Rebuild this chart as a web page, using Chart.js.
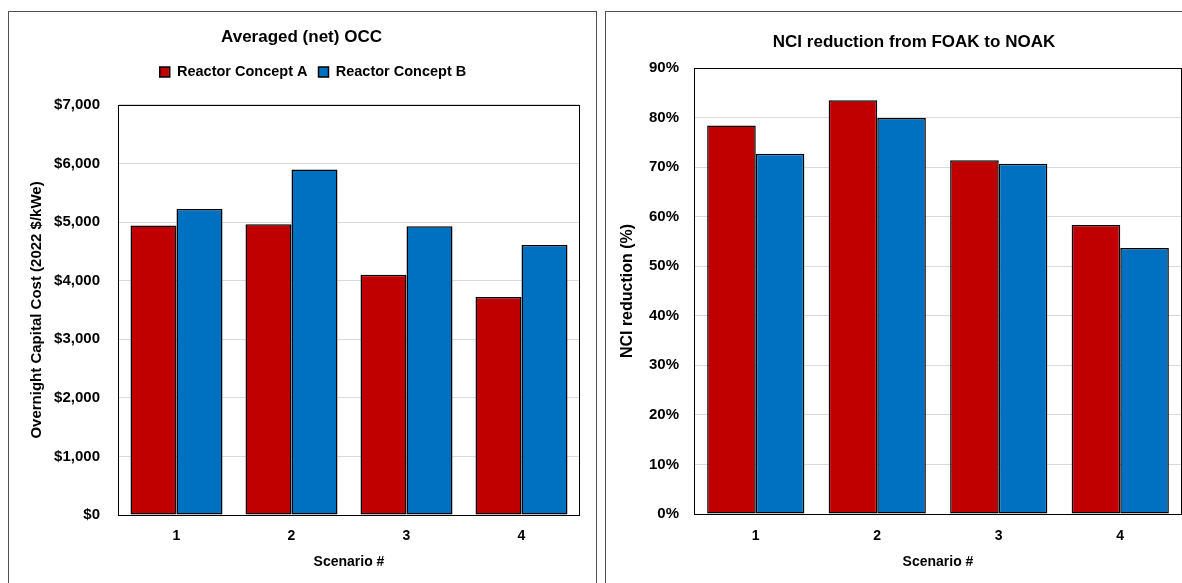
<!DOCTYPE html>
<html>
<head>
<meta charset="utf-8">
<script src="https://cdn.jsdelivr.net/npm/chart.js@4.4.1/dist/chart.umd.min.js"></script>
<style>
  html, body { margin: 0; padding: 0; background: #fff; overflow: hidden; width: 1182px; height: 583px; }
  .panel { position: absolute; border: 1.5px solid #505050; box-sizing: border-box; background: #fff; }
  #panelOcc { left: 8px; top: 11px; width: 589px; height: 620px; }
  #panelNci { left: 605px; top: 11px; width: 650px; height: 620px; }
  canvas { position: absolute; top: 0; }
  #occChart { left: 0; }
  #nciChart { left: 600px; }
</style>
</head>
<body>
<div class="panel" id="panelOcc"></div>
<div class="panel" id="panelNci"></div>
<canvas id="occChart" width="600" height="583"></canvas>
<canvas id="nciChart" width="582" height="583"></canvas>
<script>
// Scenario categories and series names
const scenarios = ['1', '2', '3', '4'];
const conceptNames = ['Reactor Concept A', 'Reactor Concept B'];

// Averaged (net) overnight capital cost, 2022 $/kWe
const occConceptA = [4940, 4965, 4100, 3720];
const occConceptB = [5225, 5900, 4930, 4610];

// NCI reduction from FOAK to NOAK, percent
const nciConceptA = [78.4, 83.5, 71.4, 58.3];
const nciConceptB = [72.7, 79.9, 70.7, 53.7];

// Value-axis tick values
const occTicks = [0, 1000, 2000, 3000, 4000, 5000, 6000, 7000];
const nciTicks = [0, 10, 20, 30, 40, 50, 60, 70, 80, 90];

const RED = '#C00000';
const BLUE = '#0070C0';
const FONT = "'Liberation Sans', Arial, Helvetica, sans-serif";

Chart.defaults.font.family = FONT;
Chart.defaults.color = '#000';

// Shifts the title / legend horizontally and optionally adds space under the legend
function boxTweaks(titleDx, legendDx, legendExtra) {
  const shift = (box, dx) => {
    const draw = box.draw.bind(box);
    box.draw = function (area) {
      this.ctx.save();
      this.ctx.translate(dx, 0);
      draw(area);
      this.ctx.restore();
    };
  };
  return {
    id: 'boxTweaks',
    beforeInit(chart) {
      if (chart.titleBlock && titleDx) shift(chart.titleBlock, titleDx);
      if (chart.legend && legendDx) shift(chart.legend, legendDx);
      if (chart.legend && legendExtra) {
        const fit = chart.legend.fit.bind(chart.legend);
        chart.legend.fit = function () { fit(); this.height += legendExtra; };
      }
    }
  };
}

// Black frame around the plot area
const plotFrame = {
  id: 'plotFrame',
  afterDatasetsDraw(chart) {
    const { ctx, chartArea: a } = chart;
    ctx.save();
    ctx.strokeStyle = '#000';
    ctx.lineWidth = 1;
    ctx.strokeRect(Math.round(a.left) - 0.5, Math.round(a.top) + 0.5,
                   Math.round(a.right - a.left) + 1, Math.round(a.bottom - a.top));
    ctx.restore();
  }
};

function barDataset(label, data, color) {
  return {
    label, data,
    backgroundColor: color,
    borderColor: '#000',
    borderWidth: 1.5,
    borderSkipped: false,
    barPercentage: 1.0,
    categoryPercentage: 0.8
  };
}

function xScale(height, tickPad) {
  return {
    type: 'category',
    grid: { display: false, drawTicks: false },
    border: { display: false },
    ticks: { padding: tickPad, font: { size: 14, weight: 'bold' }, color: '#000' },
    title: { display: true, text: 'Scenario #', font: { size: 14, weight: 'bold' }, color: '#000',
             padding: { top: 0, bottom: 12.6 } },
    afterFit(s) { s.height = height; }
  };
}

// Left: averaged overnight capital cost
new Chart(document.getElementById('occChart'), {
  type: 'bar',
  data: {
    labels: scenarios,
    datasets: [
      barDataset(conceptNames[0], occConceptA, RED),
      barDataset(conceptNames[1], occConceptB, BLUE)
    ]
  },
  options: {
    responsive: false,
    animation: false,
    devicePixelRatio: 1,
    layout: { padding: { left: 0, right: 21, top: 0, bottom: 0 } },
    plugins: {
      title: {
        display: true, text: 'Averaged (net) OCC', color: '#000',
        font: { size: 17, weight: 'bold' },
        padding: { top: 26.8, bottom: 6.5 }
      },
      legend: {
        display: true, position: 'top',
        labels: {
          boxWidth: 10, boxHeight: 10, padding: 11, color: '#000',
          font: { size: 14.5, weight: 'bold' }
        }
      },
      tooltip: { enabled: false }
    },
    scales: {
      x: xScale(68, 12.6),
      y: {
        min: 0, max: 7000,
        afterBuildTicks(s) { s.ticks = occTicks.map(v => ({ value: v })); },
        grid: { color: '#d9d9d9', lineWidth: 1, drawTicks: false },
        border: { display: false },
        ticks: {
          padding: 19, color: '#000', font: { size: 15, weight: 'bold' },
          callback: v => '$' + Number(v).toLocaleString('en-US')
        },
        title: {
          display: true, text: 'Overnight Capital Cost (2022 $/kWe)', color: '#000',
          font: { size: 15, weight: 'bold' }, padding: { top: 28, bottom: 0 }
        },
        afterFit(s) { s.width = 119; }
      }
    }
  },
  plugins: [boxTweaks(12, 23.5, 15.75), plotFrame]
});

// Right: NCI reduction from FOAK to NOAK
new Chart(document.getElementById('nciChart'), {
  type: 'bar',
  data: {
    labels: scenarios,
    datasets: [
      barDataset(conceptNames[0], nciConceptA, RED),
      barDataset(conceptNames[1], nciConceptB, BLUE)
    ]
  },
  options: {
    responsive: false,
    animation: false,
    devicePixelRatio: 1,
    layout: { padding: { left: 0, right: 1, top: 0, bottom: 0 } },
    plugins: {
      title: {
        display: true, text: 'NCI reduction from FOAK to NOAK', color: '#000',
        font: { size: 17, weight: 'bold' },
        padding: { top: 31.8, bottom: 15.8 }
      },
      legend: { display: false },
      tooltip: { enabled: false }
    },
    scales: {
      x: xScale(69, 13.6),
      y: {
        min: 0, max: 90,
        afterBuildTicks(s) { s.ticks = nciTicks.map(v => ({ value: v })); },
        grid: { color: '#d9d9d9', lineWidth: 1, drawTicks: false },
        border: { display: false },
        ticks: {
          padding: 16, color: '#000', font: { size: 15, weight: 'bold' },
          callback: v => v + '%'
        },
        title: {
          display: true, text: 'NCI reduction (%)', color: '#000',
          font: { size: 16, weight: 'bold' }, padding: { top: 18.4, bottom: 0 }
        },
        afterFit(s) { s.width = 95; }
      }
    }
  },
  plugins: [boxTweaks(23.5, 0, 0), plotFrame]
});
</script>
</body>
</html>
